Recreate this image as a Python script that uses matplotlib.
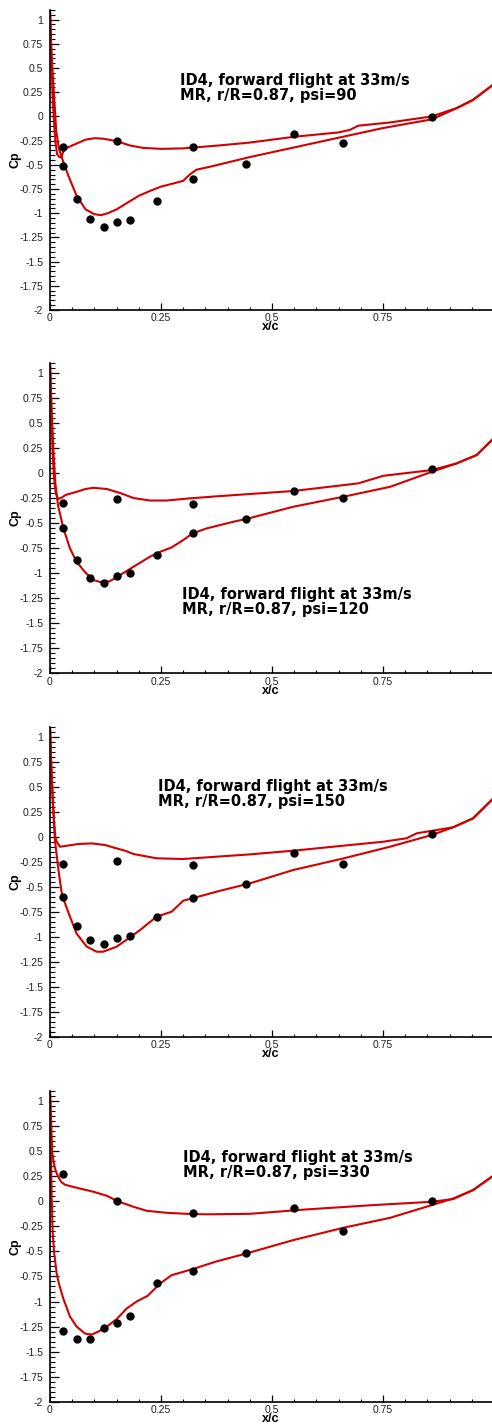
import matplotlib
matplotlib.use("Agg")
import matplotlib.pyplot as plt
from matplotlib.ticker import MultipleLocator, FuncFormatter

plt.rcParams['axes.unicode_minus'] = False

psi = [90, 120, 150, 330]

# measurement stations (x/c), same on every panel
x_exp_up = [0.03, 0.15, 0.321, 0.55, 0.86]
x_exp_lo = [0.03, 0.061, 0.09, 0.121, 0.15, 0.181, 0.24, 0.321, 0.441, 0.661]

# experiment, psi = 90 / 120 / 150 / 330
cp_exp_up_90 = [-0.317, -0.251, -0.313, -0.186, -0.010]
cp_exp_lo_90 = [-0.507, -0.848, -1.058, -1.14, -1.092, -1.068, -0.875, -0.644, -0.492, -0.275]
cp_exp_up_120 = [-0.303, -0.264, -0.307, -0.184, 0.039]
cp_exp_lo_120 = [-0.55, -0.869, -1.049, -1.096, -1.029, -0.999, -0.819, -0.603, -0.46, -0.254]
cp_exp_up_150 = [-0.276, -0.24, -0.283, -0.166, 0.027]
cp_exp_lo_150 = [-0.60, -0.896, -1.033, -1.076, -1.016, -0.99, -0.80, -0.616, -0.473, -0.27]
cp_exp_up_330 = [0.268, 0.005, -0.121, -0.065, 0.002]
cp_exp_lo_330 = [-1.292, -1.372, -1.375, -1.269, -1.212, -1.143, -0.82, -0.694, -0.52, -0.30]

# CFD, psi = 90
x_cfd_up_90 = [0.0, 0.002, 0.004, 0.006, 0.009, 0.012, 0.016, 0.021, 0.026, 0.03, 0.04, 0.06,
               0.08, 0.1, 0.12, 0.15, 0.18, 0.21, 0.25, 0.3, 0.38, 0.45, 0.55, 0.65, 0.676,
               0.694, 0.766, 0.86, 0.916, 0.953, 1.0]
cp_cfd_up_90 = [1.12, 0.8, 0.5, 0.2, -0.05, -0.25, -0.39, -0.42, -0.42, -0.36, -0.32, -0.28,
                -0.24, -0.225, -0.23, -0.255, -0.30, -0.325, -0.335, -0.33, -0.30, -0.27, -0.21,
                -0.165, -0.138, -0.096, -0.062, 0.0, 0.087, 0.173, 0.335]
x_cfd_lo_90 = [0.0, 0.003, 0.006, 0.01, 0.014, 0.02, 0.03, 0.042, 0.06, 0.08, 0.1, 0.115, 0.13,
               0.15, 0.175, 0.2, 0.225, 0.25, 0.28, 0.3, 0.315, 0.33, 0.36, 0.45, 0.55, 0.65,
               0.75, 0.86, 0.916, 0.953, 1.0]
cp_cfd_lo_90 = [1.12, 0.7, 0.45, 0.15, -0.15, -0.33, -0.47, -0.62, -0.82, -0.96, -1.01, -1.02,
                -1.0, -0.96, -0.89, -0.82, -0.77, -0.725, -0.69, -0.665, -0.6, -0.55, -0.52,
                -0.42, -0.32, -0.22, -0.12, -0.03, 0.085, 0.17, 0.335]

# CFD, psi = 120
x_cfd_up_120 = [0.0, 0.003, 0.006, 0.009, 0.013, 0.018, 0.025, 0.035, 0.06, 0.08, 0.098, 0.128,
                0.158, 0.188, 0.225, 0.263, 0.308, 0.375, 0.45, 0.548, 0.694, 0.751, 0.86,
                0.916, 0.961, 1.0]
cp_cfd_up_120 = [1.12, 0.6, 0.2, -0.05, -0.2, -0.26, -0.25, -0.22, -0.188, -0.16, -0.148, -0.16,
                 -0.2, -0.25, -0.275, -0.275, -0.256, -0.233, -0.21, -0.18, -0.104, -0.028,
                 0.029, 0.096, 0.179, 0.35]
x_cfd_lo_120 = [0.0, 0.004, 0.008, 0.012, 0.018, 0.03, 0.045, 0.06, 0.079, 0.098, 0.116, 0.135,
                0.158, 0.188, 0.225, 0.248, 0.274, 0.30, 0.321, 0.353, 0.413, 0.45, 0.548,
                0.661, 0.766, 0.86, 0.916, 0.961, 1.0]
cp_cfd_lo_120 = [1.12, 0.6, 0.2, -0.1, -0.32, -0.55, -0.753, -0.886, -0.99, -1.069, -1.092,
                 -1.08, -1.019, -0.936, -0.836, -0.787, -0.743, -0.67, -0.603, -0.553, -0.487,
                 -0.45, -0.337, -0.237, -0.138, 0.012, 0.096, 0.179, 0.35]

# CFD, psi = 150
x_cfd_up_150 = [0.0, 0.003, 0.006, 0.009, 0.012, 0.015, 0.0225, 0.034, 0.064, 0.094, 0.124,
                0.15, 0.169, 0.188, 0.24, 0.30, 0.375, 0.45, 0.548, 0.751, 0.803, 0.826, 0.908,
                0.953, 1.0]
cp_cfd_up_150 = [1.12, 0.7, 0.4, 0.15, 0.0, -0.05, -0.10, -0.093, -0.073, -0.067, -0.083,
                 -0.117, -0.14, -0.173, -0.216, -0.223, -0.20, -0.177, -0.14, -0.05, -0.016,
                 0.034, 0.094, 0.184, 0.39]
x_cfd_lo_150 = [0.0, 0.003, 0.006, 0.009, 0.011, 0.015, 0.019, 0.026, 0.03, 0.045, 0.06, 0.083,
                0.105, 0.12, 0.15, 0.18, 0.203, 0.24, 0.274, 0.30, 0.321, 0.375, 0.45, 0.548,
                0.661, 0.766, 0.86, 0.908, 0.953, 1.0]
cp_cfd_lo_150 = [1.12, 0.7, 0.4, 0.15, -0.03, -0.18, -0.33, -0.55, -0.62, -0.8, -0.97, -1.10,
                 -1.15, -1.15, -1.10, -1.007, -0.933, -0.8, -0.75, -0.64, -0.616, -0.55, -0.467,
                 -0.333, -0.217, -0.10, 0.017, 0.094, 0.184, 0.39]

# CFD, psi = 330
x_cfd_up_330 = [0.0, 0.003, 0.005, 0.008, 0.011, 0.015, 0.019, 0.026, 0.034, 0.06, 0.098, 0.128,
                0.15, 0.188, 0.218, 0.263, 0.321, 0.353, 0.45, 0.578, 0.728, 0.86, 0.908, 0.953,
                1.0]
cp_cfd_up_330 = [1.12, 0.75, 0.49, 0.40, 0.33, 0.28, 0.24, 0.19, 0.165, 0.135, 0.095, 0.055,
                 0.005, -0.055, -0.095, -0.115, -0.128, -0.13, -0.125, -0.081, -0.038, -0.005,
                 0.022, 0.112, 0.26]
x_cfd_lo_330 = [0.0, 0.002, 0.004, 0.006, 0.009, 0.015, 0.02, 0.03, 0.045, 0.06, 0.079, 0.094,
                0.109, 0.128, 0.15, 0.173, 0.195, 0.22, 0.248, 0.274, 0.321, 0.375, 0.443,
                0.548, 0.661, 0.766, 0.86, 0.908, 0.953, 1.0]
cp_cfd_lo_330 = [1.12, 0.5, 0.0, -0.3, -0.5, -0.72, -0.82, -0.97, -1.15, -1.25, -1.32, -1.33,
                 -1.30, -1.25, -1.176, -1.069, -1.0, -0.943, -0.82, -0.737, -0.677, -0.60, -0.52,
                 -0.387, -0.264, -0.165, -0.038, 0.028, 0.112, 0.26]

x_ticks = [0, 0.25, 0.5, 0.75]
y_ticks = [1, 0.75, 0.5, 0.25, 0, -0.25, -0.5, -0.75, -1, -1.25, -1.5, -1.75, -2]


def tick_fmt(v, pos):
    if abs(v) < 1e-9:
        return '0'
    return '%g' % v


def main():
    red = '#d40000'
    fig = plt.figure(figsize=(4.92, 14.26), dpi=100)

    panels = [
        (x_cfd_up_90, cp_cfd_up_90, x_cfd_lo_90, cp_cfd_lo_90, cp_exp_up_90, cp_exp_lo_90),
        (x_cfd_up_120, cp_cfd_up_120, x_cfd_lo_120, cp_cfd_lo_120, cp_exp_up_120, cp_exp_lo_120),
        (x_cfd_up_150, cp_cfd_up_150, x_cfd_lo_150, cp_cfd_lo_150, cp_exp_up_150, cp_exp_lo_150),
        (x_cfd_up_330, cp_cfd_up_330, x_cfd_lo_330, cp_cfd_lo_330, cp_exp_up_330, cp_exp_lo_330),
    ]
    # axes boxes [left, bottom, width, height] in figure fraction
    boxes = [
        [0.1016, 0.7826, 0.8984, 0.2104],
        [0.1016, 0.5278, 0.8984, 0.2178],
        [0.1016, 0.2730, 0.8984, 0.2174],
        [0.1016, 0.0170, 0.8984, 0.2179],
    ]
    # text anchor (data coords, left / vertical centre of the block)
    text_pos = [(0.293, 0.292), (0.297, -1.288), (0.243, 0.423), (0.300, 0.366)]

    for i, (xu, cu, xl, cl, eu, el) in enumerate(panels):
        ax = fig.add_axes(boxes[i])
        ax.plot(xu, cu, color=red, lw=1.5, zorder=2)
        ax.plot(xl, cl, color=red, lw=1.5, zorder=2)
        ax.plot(x_exp_up, eu, 'o', color='black', ms=5, zorder=3)
        ax.plot(x_exp_lo, el, 'o', color='black', ms=5, zorder=3)

        ax.set_xlim(0, 0.9955)
        ax.set_ylim(-2, 1.1)
        ax.set_xticks(x_ticks)
        ax.set_yticks(y_ticks)
        ax.xaxis.set_minor_locator(MultipleLocator(0.05))
        ax.yaxis.set_minor_locator(MultipleLocator(0.05))
        ax.xaxis.set_major_formatter(FuncFormatter(tick_fmt))
        ax.yaxis.set_major_formatter(FuncFormatter(tick_fmt))

        for s in ['top', 'right']:
            ax.spines[s].set_visible(False)
        for s in ['left', 'bottom']:
            ax.spines[s].set_linewidth(1.2)

        ax.tick_params(axis='y', which='major', direction='in', length=6.5, width=0.9,
                       pad=5, labelsize=7.5, labelcolor='#222222')
        ax.tick_params(axis='y', which='minor', direction='in', length=3.5, width=0.8)
        ax.tick_params(axis='x', which='major', direction='in', length=5, width=0.9,
                       pad=2.5, labelsize=7.5, labelcolor='#222222')
        ax.tick_params(axis='x', which='minor', direction='in', length=2.5, width=0.8)
        for lab in ax.get_xticklabels() + ax.get_yticklabels():
            lab.set_family('Liberation Sans')

        ax.set_ylabel('Cp', fontsize=9, fontweight='bold', family='Liberation Sans')
        ax.yaxis.set_label_coords(-0.064, 0.5)
        ax.set_xlabel('x/c', fontsize=9, fontweight='bold', family='Liberation Sans')
        ax.xaxis.set_label_coords(0.5, -0.036)

        tx, ty = text_pos[i]
        ax.text(tx, ty, 'ID4, forward flight at 33m/s\nMR, r/R=0.87, psi=%d' % psi[i],
                fontsize=10.5, fontweight='bold', family='DejaVu Sans',
                ha='left', va='center', linespacing=1.0, zorder=4)

    plt.savefig('out.png', dpi=100)


if __name__ == "__main__":
    main()
